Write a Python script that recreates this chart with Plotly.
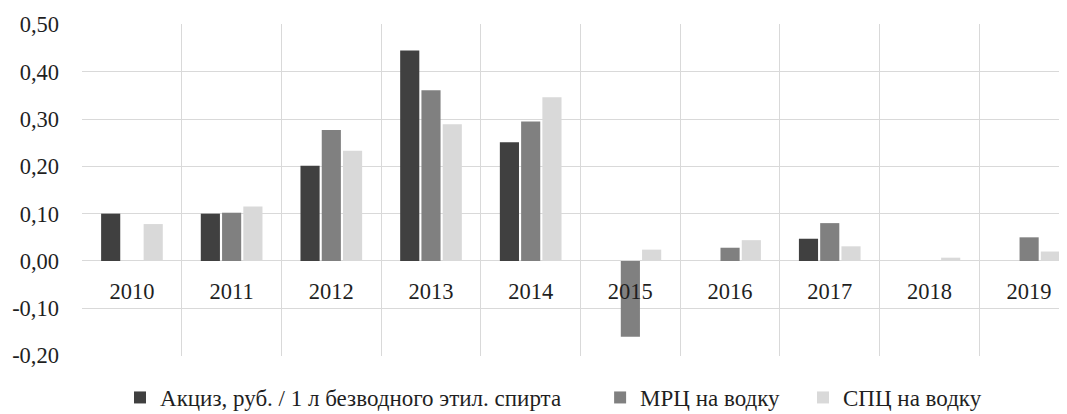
import plotly.graph_objects as go

years = [2010, 2011, 2012, 2013, 2014, 2015, 2016, 2017, 2018, 2019]
year_labels = [str(y) for y in years]

excise = [0.100, 0.100, 0.201, 0.445, 0.251, None, None, 0.047, None, None]
mrp = [None, 0.102, 0.277, 0.361, 0.295, -0.160, 0.028, 0.080, None, 0.050]
spp = [0.078, 0.115, 0.233, 0.289, 0.346, 0.024, 0.044, 0.031, 0.007, 0.020]

names = ["Акциз, руб. / 1 л безводного этил. спирта", "МРЦ на водку", "СПЦ на водку"]
colors = ["#404040", "#808080", "#d9d9d9"]
legend_ids = ["legend", "legend2", "legend3"]
legend_x = [0.0386, 0.526, 0.732]

y_ticks = [-0.2, -0.1, 0.0, 0.1, 0.2, 0.3, 0.4, 0.5]
y_labels = ["-0,20", "-0,10", "0,00", "0,10", "0,20", "0,30", "0,40", "0,50"]

font = "Liberation Serif"

fig = go.Figure()
for name, vals, col, lg in zip(names, [excise, mrp, spp], colors, legend_ids):
    fig.add_trace(go.Bar(x=years, y=vals, name=name, legend=lg,
                         marker=dict(color=col, line=dict(width=0))))

legend_style = dict(orientation="h", xanchor="left", y=-0.125, yanchor="middle",
                    font=dict(family=font, size=23, color="#1f1f1f"),
                    bgcolor="rgba(0,0,0,0)")

y_min, y_max = -0.2, 0.5
fig.update_layout(
    width=1059, height=406,
    margin=dict(l=74, r=0, t=16, b=57.5, autoexpand=False),
    plot_bgcolor="white", paper_bgcolor="white",
    barmode="group", bargap=0.36, bargroupgap=0.1,
    font=dict(family=font, size=22.5, color="#1f1f1f"),
    showlegend=True,
    legend=dict(x=legend_x[0], **legend_style),
    legend2=dict(x=legend_x[1], **legend_style),
    legend3=dict(x=legend_x[2], **legend_style),
    xaxis=dict(range=[2009.499, 2019.38], tickmode="array", tickvals=years, ticktext=year_labels,
               showgrid=False, zeroline=False, showline=False, ticks="", automargin=False,
               anchor="free", position=(0 - y_min) / (y_max - y_min),
               ticklabelstandoff=14,
               minor=dict(tick0=2009.5, dtick=1, showgrid=True, gridcolor="#d9d9d9", gridwidth=1.3)),
    yaxis=dict(range=[y_min - 0.0008, y_max + 0.0008], tickmode="array", tickvals=y_ticks, ticktext=y_labels,
               showgrid=True, gridcolor="#d9d9d9", gridwidth=1.3, zeroline=False, showline=False,
               ticks="", ticklabelstandoff=22, automargin=False),
)

fig.write_html("out.html")
